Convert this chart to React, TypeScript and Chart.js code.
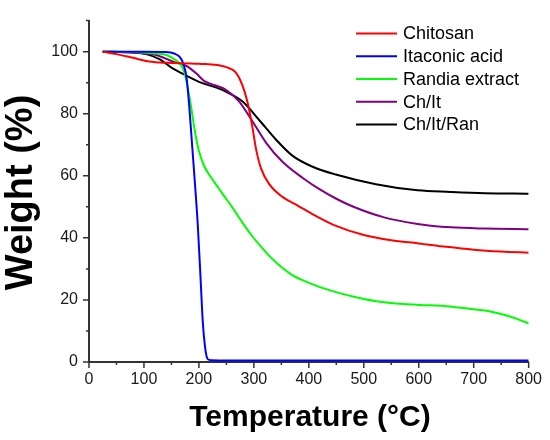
import { useEffect, useRef } from "react"
import { Chart, registerables } from "chart.js"

Chart.register(...registerables)

// Thermogravimetric curves (temperature in °C, weight in %)
const chitosanT = [25, 50, 80, 110, 140, 200, 250, 267, 279, 288, 297, 304, 313, 328, 352, 379, 410, 446, 500, 550, 600, 650, 700, 750, 800]
const chitosanW = [100, 99.2, 98, 96.8, 96.4, 96.1, 95, 93.3, 89.2, 84, 76, 68.6, 62.4, 57.3, 53.2, 50.5, 47.3, 44.1, 40.9, 39.2, 38.2, 37.1, 36.2, 35.6, 35.2]

const itaconicT = [25, 100, 140, 155, 165, 172, 178, 183, 188, 193, 198, 203, 207, 211, 214, 217, 222, 300, 400, 500, 600, 700, 800]
const itaconicW = [100, 100, 99.9, 99.4, 98.3, 96, 91, 81, 69, 57, 44, 27, 13, 5, 1.8, 0.8, 0.6, 0.5, 0.5, 0.5, 0.5, 0.5, 0.5]

const randiaT = [25, 80, 116, 141, 159, 168, 174, 180, 186, 192, 200, 210, 220, 232, 245, 262, 277, 295, 310, 333, 350, 370, 400, 440, 500, 550, 600, 650, 700, 730, 760, 780, 800]
const randiaW = [100, 99.9, 99.5, 98.9, 97.1, 95.5, 93, 88, 82, 75, 68, 63, 60, 57, 53.7, 49.5, 45.5, 41, 37.8, 33.3, 30.6, 28, 25.5, 23, 20.3, 19, 18.4, 18, 17, 16.3, 15, 13.8, 12.4]

const chItT = [25, 100, 122, 153, 177, 195, 210, 232, 249, 273, 298, 322, 352, 389, 420, 450, 480, 537, 598, 658, 720, 800]
const chItW = [100, 99.5, 98.9, 96.8, 95.4, 93, 90.5, 89, 87.7, 84, 77.4, 70.7, 64.5, 59.3, 55.6, 52.6, 50.1, 46.6, 44.5, 43.4, 43, 42.8]

const chItRanT = [25, 80, 104, 128, 153, 177, 204, 232, 249, 279, 310, 340, 370, 407, 449, 522, 598, 658, 720, 800]
const chItRanW = [100, 99.7, 99.2, 97.6, 94.5, 92.3, 90, 88.4, 87.1, 84, 77.9, 71.7, 66.5, 62.9, 60.4, 57.3, 55.3, 54.8, 54.4, 54.2]

const seriesLabels = ["Chitosan", "Itaconic acid", "Randia extract", "Ch/It", "Ch/It/Ran"]
const seriesColors = ["#ff0000", "#0000ff", "#00ff00", "#800080", "#000000"]
const seriesT = [chitosanT, itaconicT, randiaT, chItT, chItRanT]
const seriesW = [chitosanW, itaconicW, randiaW, chItW, chItRanW]

const xMax = 800
const xMajor = 100
const xMinor = 50
const yMax = 110
const yMajor = 20
const yMinor = 10

const xTitle = "Temperature (°C)"
const yTitle = "Weight (%)"

const FONT = "'Liberation Sans', Arial, sans-serif"
const AXIS_COLOR = "#333333"

// major/minor tick marks pointing outwards
const tickMarks = {
  id: "tickMarks",
  afterDraw(chart: any) {
    const { ctx, chartArea, scales } = chart
    ctx.save()
    ctx.strokeStyle = AXIS_COLOR
    ctx.lineWidth = 1.5
    ctx.beginPath()
    for (let v = 0; v <= xMax; v += xMinor) {
      const px = scales.x.getPixelForValue(v)
      const len = v % xMajor === 0 ? 6 : 3
      ctx.moveTo(px, chartArea.bottom)
      ctx.lineTo(px, chartArea.bottom + len)
    }
    for (let v = 0; v <= yMax; v += yMinor) {
      const py = scales.y.getPixelForValue(v)
      const len = v % yMajor === 0 ? 6 : 3
      ctx.moveTo(chartArea.left, py)
      ctx.lineTo(chartArea.left - len, py)
    }
    ctx.stroke()
    ctx.restore()
  },
}

const axisTitles = {
  id: "axisTitles",
  afterDraw(chart: any) {
    const { ctx } = chart
    ctx.save()
    ctx.fillStyle = "#000"
    ctx.textAlign = "center"
    ctx.textBaseline = "middle"
    ctx.font = `bold 30px ${FONT}`
    ctx.fillText(xTitle, 310, 417.5)
    ctx.translate(21.5, 192.5)
    ctx.rotate(-Math.PI / 2)
    ctx.font = `bold 38px ${FONT}`
    ctx.fillText(yTitle, 0, 0)
    ctx.restore()
  },
}

// legend with short line samples, top right inside the plot
const lineLegend = {
  id: "lineLegend",
  afterDraw(chart: any) {
    const { ctx } = chart
    ctx.save()
    ctx.font = `18px ${FONT}`
    ctx.textBaseline = "middle"
    ctx.textAlign = "left"
    chart.data.datasets.forEach((ds: any, i: number) => {
      const y = 33.5 + i * 22.75
      ctx.strokeStyle = ds.borderColor
      ctx.lineWidth = 2
      ctx.beginPath()
      ctx.moveTo(356, y)
      ctx.lineTo(397, y)
      ctx.stroke()
      ctx.fillStyle = "#000"
      ctx.fillText(ds.label, 403, y + 1)
    })
    ctx.restore()
  },
}

function TgaChart() {
  const chartRef = useRef<HTMLCanvasElement>(null)
  const chartInstance = useRef<Chart | null>(null)

  useEffect(() => {
    if (!chartRef.current) return
    if (chartInstance.current) chartInstance.current.destroy()

    const ctx = chartRef.current.getContext("2d")
    if (!ctx) return

    chartInstance.current = new Chart(ctx, {
      type: "line",
      data: {
        datasets: seriesLabels.map((label, i) => ({
          label,
          data: seriesT[i].map((t, j) => ({ x: t, y: seriesW[i][j] })),
          borderColor: seriesColors[i],
          backgroundColor: seriesColors[i],
          borderWidth: 2,
          pointRadius: 0,
          fill: false,
          cubicInterpolationMode: "monotone" as const,
        })),
      },
      options: {
        responsive: false,
        animation: false,
        layout: { padding: { top: 6, right: 21, bottom: 0, left: 0 } },
        scales: {
          x: {
            type: "linear",
            min: 0,
            max: xMax,
            grid: { display: false, drawTicks: false },
            border: { display: true, color: AXIS_COLOR, width: 2 },
            ticks: {
              stepSize: xMajor,
              padding: 8,
              maxRotation: 0,
              color: "#1a1a1a",
              font: { family: FONT, size: 16 },
            },
            afterFit: (s: any) => {
              s.height = 78
            },
          },
          y: {
            type: "linear",
            min: 0,
            max: yMax,
            grid: { display: false, drawTicks: false },
            border: { display: true, color: AXIS_COLOR, width: 2 },
            ticks: {
              stepSize: yMajor,
              includeBounds: false,
              padding: 11,
              color: "#1a1a1a",
              font: { family: FONT, size: 16 },
            },
            afterFit: (s: any) => {
              s.width = 89
            },
          },
        },
        plugins: {
          legend: { display: false },
          tooltip: { enabled: false },
        },
      },
      plugins: [tickMarks, axisTitles, lineLegend],
    })

    return () => {
      if (chartInstance.current) {
        chartInstance.current.destroy()
        chartInstance.current = null
      }
    }
  }, [])

  return <canvas ref={chartRef} width={550} height={440} />
}

export default function App() {
  return (
    <div style={{ position: "fixed", left: 0, top: 0, width: 550, height: 440, background: "#fff" }}>
      <TgaChart />
    </div>
  )
}
